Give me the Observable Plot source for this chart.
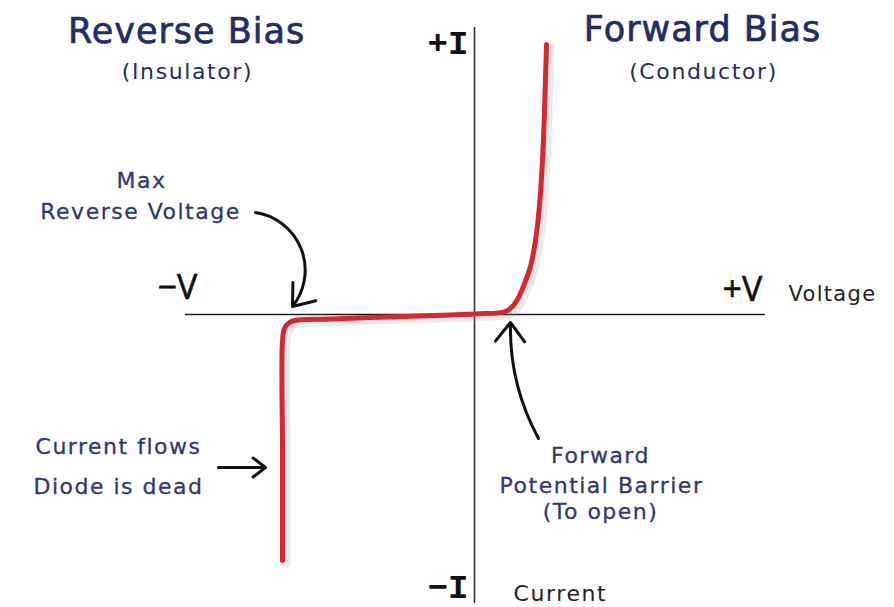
<!DOCTYPE html>
<html>
<head>
<meta charset="utf-8">
<script src="https://cdn.jsdelivr.net/npm/d3@7"></script>
<script src="https://cdn.jsdelivr.net/npm/@observablehq/plot@0.6"></script>
<style>
  html, body { margin: 0; padding: 0; background: #fff; }
  #chart svg { display: block; }
</style>
</head>
<body>
<div id="chart"></div>
<script>
// ---- Data (arbitrary units: voltage right, current up; origin at axes crossing) ----
const voltage = [-192, -192, -192, -190, -185, -177, -144, -74, 0, 31, 38, 44, 50, 56, 61, 65, 68, 70, 72];
const current = [-246, -136, -26, -14, -8, -5.5, -4.5, -2, 0.5, 3, 8, 17, 31, 48, 74, 109, 154, 204, 270];

// axis extents
const voltageExtent = [-289, 291];
const currentExtent = [287, -289];

// text content
const titleTexts = ["Reverse Bias", "(Insulator)", "Forward Bias", "(Conductor)"];
const noteTexts = ["Max", "Reverse Voltage", "Current flows", "Diode is dead", "Forward", "Potential Barrier", "(To open)"];
const axisTexts = ["−V", "+V", "Voltage", "+I", "−I", "Current"];

// annotation anchors (data units)
const titlePos = [[-288, 272], [-287, 236], [228, 274], [229, 236]];
const notePos = [[-333, 127], [-334, 96], [-356, -139], [-356, -179], [126, -148], [127, -178], [126, -204]];
const axisPos = [[-317, 16], [248, 14], [314, 14], [-47, 261], [-47, -283], [39, -286]];

// arrows: [x1, y1, x2, y2, bend]
const arrowDefs = [
  [-219, 102, -182, 8, 60],
  [-256, -153, -209, -153, 0],
  [64, -124, 36, -8, 15]
];

const curve = voltage.map((v, i) => ({v, i: current[i]}));
const titles = titleTexts.map((t, k) => ({t, x: titlePos[k][0], y: titlePos[k][1], big: k % 2 === 0}));
const notes = noteTexts.map((t, k) => ({t, x: notePos[k][0], y: notePos[k][1]}));
const axisLabels = axisTexts.map((t, k) => ({t, x: axisPos[k][0], y: axisPos[k][1]}));
const arrows = arrowDefs.map(([x1, y1, x2, y2, bend]) => ({x1, y1, x2, y2, bend}));

const NAVY = "#232c66";
const NOTE = "#2f3872";
const FONT = "'DejaVu Sans', 'Noto Sans', sans-serif";
const FONT2 = "'Open Sans', 'Noto Sans', sans-serif";

const marks = [
  // axes
  Plot.ruleY([0], {x1: voltageExtent[0], x2: voltageExtent[1], stroke: "#1a1a1a", strokeWidth: 1.6}),
  Plot.ruleX([0], {y1: currentExtent[0], y2: currentExtent[1], stroke: "#333", strokeWidth: 1.6}),
  // curve shadow
  Plot.line(curve, {x: "v", y: "i", curve: "catmull-rom", stroke: "#9aa0aa", strokeOpacity: 0.22, strokeWidth: 8, dx: 4, dy: 3}),
  // I-V curve
  Plot.line(curve, {x: "v", y: "i", curve: "catmull-rom", stroke: "#d7282f", strokeWidth: 5, strokeLinecap: "round", strokeLinejoin: "round"}),
  // arrows
  ...arrows.map(a => Plot.arrow([a], {x1: "x1", y1: "y1", x2: "x2", y2: "y2", bend: a.bend, stroke: "#111", strokeWidth: 3, headLength: 12, headAngle: 75})),
  // titles
  Plot.text(titles.filter(d => d.big), {x: "x", y: "y", text: "t", fontSize: 35, fontFamily: FONT, fill: NAVY, stroke: NAVY, strokeWidth: 0.7, textAnchor: "middle", lineAnchor: "bottom"}),
  Plot.text(titles.filter(d => !d.big), {x: "x", y: "y", text: "t", fontSize: 22, fontFamily: FONT, fill: NAVY, textAnchor: "middle", lineAnchor: "bottom"}),
  // notes
  Plot.text(notes, {x: "x", y: "y", text: "t", fontSize: 22, fontFamily: FONT, fill: NOTE, stroke: NOTE, strokeWidth: 0.3, textAnchor: "middle", lineAnchor: "bottom"}),
  // axis labels
  Plot.text(axisLabels.slice(0, 2), {x: "x", y: "y", text: "t", fontSize: 34, fontFamily: FONT2, fill: "#111", stroke: "#111", strokeWidth: 0.6, textAnchor: "start", lineAnchor: "bottom"}),
  Plot.text(axisLabels.slice(2, 3), {x: "x", y: "y", text: "t", fontSize: 21, fontFamily: FONT, fill: "#222", textAnchor: "start", lineAnchor: "bottom"}),
  Plot.text(axisLabels.slice(3, 5), {x: "x", y: "y", text: "t", fontSize: 34, fontFamily: "'Liberation Mono', 'DejaVu Sans Mono', monospace", fontWeight: "bold", fill: "#111", textAnchor: "start", lineAnchor: "bottom"}),
  Plot.text(axisLabels.slice(5, 6), {x: "x", y: "y", text: "t", fontSize: 22, fontFamily: FONT, fill: "#222", textAnchor: "start", lineAnchor: "bottom"})
];

const chart = Plot.plot({
  width: 894,
  height: 607,
  margin: 0,
  x: {domain: [-474, 420], axis: null},
  y: {domain: [-293, 314], axis: null},
  style: {background: "#fff", overflow: "visible"},
  marks
});

// letter spacing per text mark (in mark order) to mimic the wide hand-lettered font
const spacing = ["1px", "1.6px", "1.5px", "0px", "1.3px", "0px", "1.6px"];
d3.select(chart).selectAll("g[aria-label='text']").each(function(_, k) {
  if (spacing[k]) this.setAttribute("letter-spacing", spacing[k]);
});
// keep centred labels centred despite trailing spacing
d3.select(chart).selectAll("g[aria-label='text'] text").each(function() {
  const ls = parseFloat(this.parentNode.getAttribute("letter-spacing") || 0);
  if (ls && this.parentNode.getAttribute("text-anchor") === "middle") {
    this.setAttribute("dx", ls / 2);
  }
});
document.getElementById("chart").appendChild(chart);
</script>
</body>
</html>
